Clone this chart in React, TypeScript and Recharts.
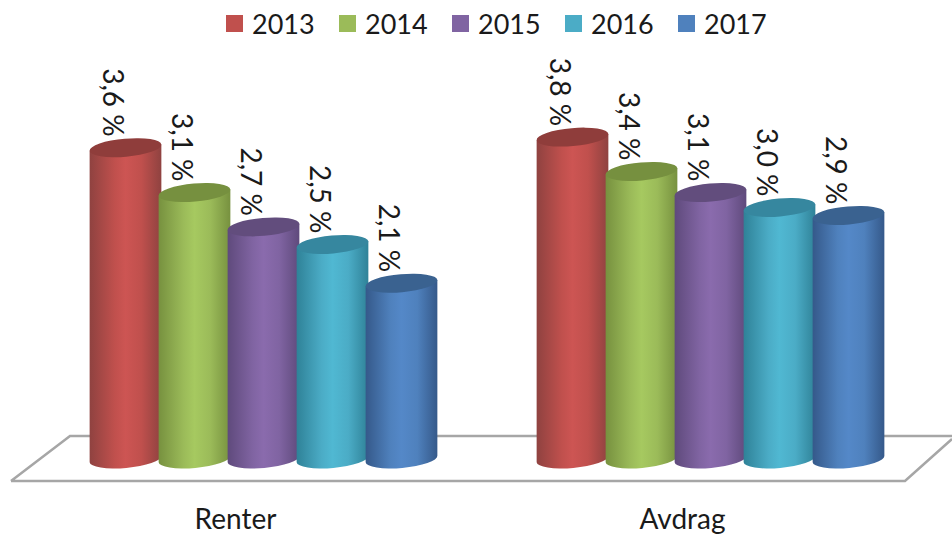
// 3D-look cylinder columns: Renter / Avdrag per year
import { BarChart, Bar, XAxis, YAxis, LabelList } from "recharts";

const categories = ["Renter", "Avdrag"];
const years = ["2013", "2014", "2015", "2016", "2017"];
const values2013 = [3.64, 3.76];
const values2014 = [3.13, 3.37];
const values2015 = [2.74, 3.13];
const values2016 = [2.54, 2.96];
const values2017 = [2.1, 2.87];
const seriesValues = [values2013, values2014, values2015, values2016, values2017];

const colors = ["#c0504d", "#9bbb59", "#8064a2", "#4bacc6", "#4f81bd"];
const bright = ["#cd5553", "#a6c960", "#8a6bad", "#50b8d2", "#5488c8"];
const dark = ["#8f4240", "#77913f", "#5f4a7c", "#2f8298", "#35598a"];
const topColors = ["#8f3d3b", "#76903f", "#624d7d", "#36879f", "#3a6290"];

const rows = categories.map((name, c) => {
  const row: Record<string, string | number> = { name };
  years.forEach((y, s) => (row[y] = seriesValues[s][c]));
  return row;
});

const FONT = "Lato, 'Open Sans', sans-serif";
const RX = 36;
const RY = 9;
const TILT = 5;

function Cylinder(props: any) {
  const { x, y, width, height, index, series } = props;
  const cx = x + width / 2;
  const dy = RX * Math.sin((TILT * Math.PI) / 180);
  const dx = RX * Math.cos((TILT * Math.PI) / 180);
  const bottom = y + height - RY;
  const arc = `A ${RX} ${RY} ${-TILT} 0 1`;
  const d = `M ${cx - dx} ${y + dy} L ${cx + dx} ${y - dy} L ${cx + dx} ${bottom - dy} ${arc} ${cx - dx} ${bottom + dy} Z`;
  return (
    <g key={index}>
      <path d={d} fill={`url(#cyl${series})`} />
      <ellipse cx={cx} cy={y} rx={RX} ry={RY} fill={topColors[series]} transform={`rotate(${-TILT} ${cx} ${y})`} />
    </g>
  );
}

function RotatedValue(props: any) {
  const { x, y, width, value } = props;
  const px = x + width / 2 - 12;
  const py = y - 11;
  return (
    <text
      x={px}
      y={py}
      transform={`rotate(90 ${px} ${py})`}
      textAnchor="end"
      dominantBaseline="central"
      fontFamily={FONT}
      fontSize={28}
      fill="#1a1a1a"
    >
      {Number(value).toFixed(1).replace(".", ",") + " %"}
    </text>
  );
}

function YearLegend() {
  return (
    <div style={{ position: "absolute", top: 0, left: 226, zIndex: 1, display: "flex", alignItems: "center", height: 46, fontFamily: FONT, fontSize: 27, color: "#1a1a1a" }}>
      {years.map((y, i) => (
        <div key={y} style={{ display: "flex", alignItems: "center", width: 113 }}>
          <span style={{ width: 17, height: 17, background: colors[i], marginRight: 9 }} />
          <span>{y}</span>
        </div>
      ))}
    </div>
  );
}

export default function App() {
  return (
    <div style={{ position: "absolute", left: 0, top: 0, width: 952, height: 536, background: "#fff" }}>
      <YearLegend />
      <BarChart
        width={952}
        height={536}
        data={rows}
        margin={{ top: 28, right: 18, bottom: 0, left: 40 }}
        barSize={69}
        barGap={0}
      >
        <defs>
          {years.map((y, i) => (
            <linearGradient key={y} id={`cyl${i}`} x1="0" y1="0" x2="1" y2="0">
              <stop offset="0%" stopColor={dark[i]} />
              <stop offset="35%" stopColor={colors[i]} />
              <stop offset="50%" stopColor={bright[i]} />
              <stop offset="72%" stopColor={colors[i]} />
              <stop offset="100%" stopColor={dark[i]} />
            </linearGradient>
          ))}
        </defs>
        <path d="M 11 481 L 70 436 L 952 436 M 11 481 L 905 481 L 952 439" fill="none" stroke="#a6a6a6" strokeWidth={2.5} />
        <XAxis
          dataKey="name"
          axisLine={false}
          tickLine={false}
          tickSize={0}
          height={68}
          tickMargin={41}
          tick={{ fill: "#1a1a1a", fontSize: 28, fontFamily: FONT, dx: -28 }}
        />
        <YAxis hide domain={[0, 5]} />
        {years.map((y, i) => (
          <Bar
            key={y}
            dataKey={y}
            name={y}
            fill={colors[i]}
            isAnimationActive={false}
            shape={(p: any) => <Cylinder {...p} series={i} />}
          >
            <LabelList dataKey={y} content={<RotatedValue />} />
          </Bar>
        ))}
      </BarChart>
    </div>
  );
}
